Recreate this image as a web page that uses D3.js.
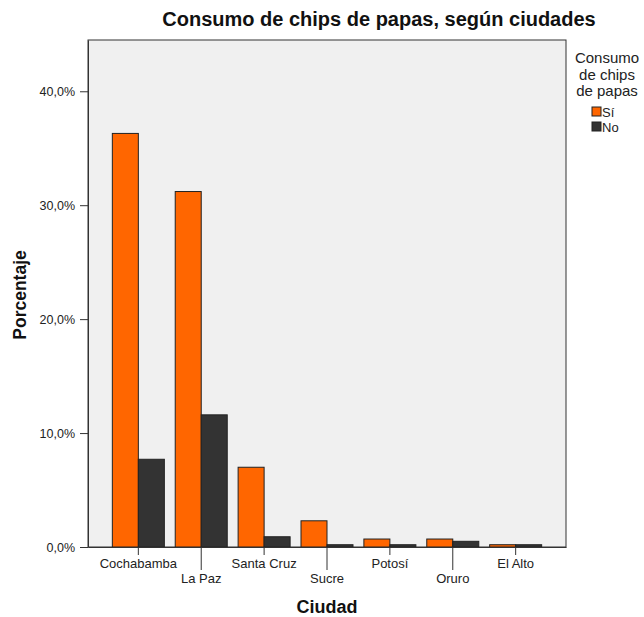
<!DOCTYPE html>
<html><head><meta charset="utf-8">
<script src="https://cdn.jsdelivr.net/npm/d3@7"></script>
<style>body{margin:0;background:#fff;} text{font-family:Arial,"Liberation Sans",sans-serif;}</style>
</head><body><svg id="c" width="644" height="617"></svg>
<script>
const ciudades = ["Cochabamba","La Paz","Santa Cruz","Sucre","Potosí","Oruro","El Alto"];
const series = ["Sí","No"];
const valoresSi = [36.3, 31.2, 7.0, 2.3, 0.7, 0.7, 0.2];
const valoresNo = [7.7, 11.6, 0.9, 0.2, 0.2, 0.5, 0.2];
const yTicks = [0, 10, 20, 30, 40];
const colores = ["#ff6600", "#333333"];

const svg = d3.select("#c");
const L = 88, R = 566, T = 40, B = 547;

svg.append("rect").attr("x", L).attr("y", T).attr("width", R - L).attr("height", B - T)
  .attr("fill", "#f0f0f0").attr("stroke", "#333").attr("stroke-width", 1);

const x = d3.scaleBand().domain(ciudades).range([L, R]).paddingInner(0.173).paddingOuter(0.387);
const xs = d3.scaleBand().domain(series).range([0, x.bandwidth()]);
const y = d3.scaleLinear().domain([0, 44.5]).range([B, T]);

const data = ciudades.map((c, i) => ({c, vals: [valoresSi[i], valoresNo[i]]}));
const g = svg.append("g");
data.forEach(d => {
  d.vals.forEach((v, j) => {
    g.append("rect")
      .attr("x", x(d.c) + xs(series[j]))
      .attr("y", y(v))
      .attr("width", xs.bandwidth())
      .attr("height", B - y(v))
      .attr("fill", colores[j])
      .attr("stroke", "#222").attr("stroke-width", 1);
  });
});

// Y axis
const yAx = svg.append("g").attr("transform", `translate(${L},0)`)
  .call(d3.axisLeft(y).tickValues(yTicks).tickSize(8).tickSizeOuter(0)
    .tickFormat(d => d3.format(".1f")(d).replace(".", ",") + "%"));
yAx.select(".domain").attr("stroke", "#333");
yAx.selectAll(".tick line").attr("stroke", "#333");
yAx.selectAll(".tick text").attr("font-size", 12.5).attr("fill", "#222")
  .attr("font-family", "Arial, Liberation Sans, sans-serif").attr("dx", -2);

// X axis with staggered labels
const xAx = svg.append("g").attr("transform", `translate(0,${B})`)
  .call(d3.axisBottom(x).tickSize(8).tickSizeOuter(0));
xAx.select(".domain").attr("stroke", "#333");
xAx.selectAll(".tick").each(function(d, i) {
  const t = d3.select(this);
  t.select("line").attr("stroke", "#333").attr("y2", i % 2 ? 23 : 8);
  t.select("text").attr("font-size", 13).attr("fill", "#222")
    .attr("font-family", "Arial, Liberation Sans, sans-serif")
    .attr("y", i % 2 ? 27 : 12);
});

// Titles
svg.append("text").attr("x", 379).attr("y", 26).attr("text-anchor", "middle")
  .attr("font-size", 20).attr("font-weight", "bold").attr("fill", "#111")
  .text("Consumo de chips de papas, según ciudades");
svg.append("text").attr("x", 327).attr("y", 613).attr("text-anchor", "middle")
  .attr("font-size", 18).attr("font-weight", "bold").attr("fill", "#111").text("Ciudad");
svg.append("text").attr("transform", "translate(26,295) rotate(-90)").attr("text-anchor", "middle")
  .attr("font-size", 17.5).attr("font-weight", "bold").attr("fill", "#111").text("Porcentaje");

// Legend
const lg = svg.append("g");
["Consumo", "de chips", "de papas"].forEach((s, i) => {
  lg.append("text").attr("x", 607).attr("y", 63 + i * 16.5).attr("text-anchor", "middle")
    .attr("font-size", 15).attr("fill", "#222").text(s);
});
series.forEach((s, i) => {
  lg.append("rect").attr("x", 592).attr("y", 107 + i * 15).attr("width", 9).attr("height", 9)
    .attr("fill", colores[i]).attr("stroke", "#222").attr("stroke-width", 1);
  lg.append("text").attr("x", 602).attr("y", 116.5 + i * 15).attr("font-size", 13).attr("fill", "#222").text(s);
});
</script></body></html>
